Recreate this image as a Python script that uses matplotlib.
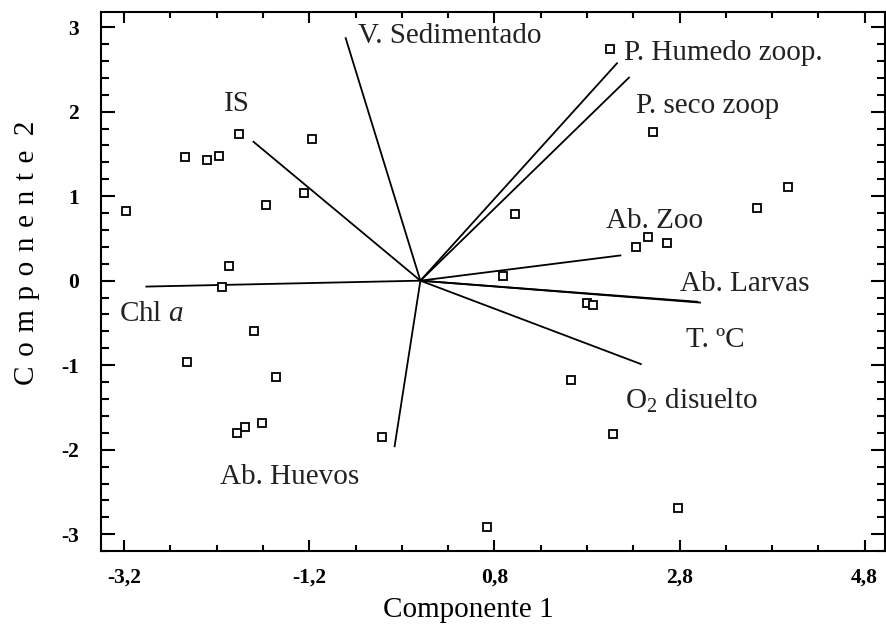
import numpy as np
import matplotlib.pyplot as plt
from matplotlib.ticker import FixedLocator, MultipleLocator

# Sample scores (Componente 1, Componente 2)
comp1 = [-3.18, -2.54, -2.30, -2.18, -1.96, -1.17, -1.26, -1.67, -2.07, -2.14,
         -1.80, -2.52, -1.56, -1.71, -1.89, -1.98, -0.42,
         2.05, 2.51, 3.97, 3.64, 1.02, 2.46, 2.33, 2.66, 0.89, 1.80, 1.86,
         1.63, 2.08, 2.78, 0.72]
comp2 = [0.82, 1.46, 1.43, 1.48, 1.73, 1.68, 1.04, 0.89, 0.17, -0.07,
         -0.59, -0.96, -1.14, -1.68, -1.73, -1.80, -1.85,
         2.74, 1.76, 1.11, 0.86, 0.79, 0.52, 0.40, 0.45, 0.06, -0.27, -0.29,
         -1.18, -1.82, -2.69, -2.91]

# Variable loadings (vector end points)
var_names = ['V. Sedimentado', 'IS', 'Chl a', 'Ab. Huevos', 'P. Humedo zoop.',
             'P. seco zoop', 'Ab. Zoo', 'Ab. Larvas', 'T. ºC', 'O2 disuelto']
var_x = [-0.81, -1.81, -2.97, -0.28, 2.13, 2.26, 2.17, 3.03, 3.00, 2.39]
var_y = [2.88, 1.65, -0.07, -1.97, 2.58, 2.41, 0.30, -0.26, -0.25, -0.99]

# label text and where it sits
label_txt = ['V. Sedimentado', 'IS', 'Chl $\\mathit{a}$', 'Ab. Huevos', 'P. Humedo zoop.',
             'P. seco zoop', 'Ab. Zoo', 'Ab. Larvas', 'T. ºC', 'O$_2$ disuelto']
label_x = [-0.67, -2.12, -3.26, -2.16, 2.20, 2.33, 2.00, 2.80, 2.87, 2.21]
label_y = [2.89, 2.09, -0.40, -2.32, 2.69, 2.07, 0.71, -0.04, -0.70, -1.42]

xticks = [-3.2, -1.2, 0.8, 2.8, 4.8]
xtick_labels = ['-3,2', '-1,2', '0,8', '2,8', '4,8']
yticks = [-3, -2, -1, 0, 1, 2, 3]

plt.rcParams['font.family'] = ['Liberation Serif', 'DejaVu Serif']
plt.rcParams['mathtext.fontset'] = 'custom'
plt.rcParams['mathtext.rm'] = 'Liberation Serif'
plt.rcParams['mathtext.it'] = 'Liberation Serif:italic'

fig = plt.figure(figsize=(8.86, 6.27), dpi=100)
ax = fig.add_axes([0.114, 0.121, 0.885, 0.860])

for vx, vy in zip(var_x, var_y):
    ax.plot([0, vx], [0, vy], color='black', lw=1.3, solid_capstyle='butt')

ax.plot(comp1, comp2, ls='none', marker='s', ms=6.3, mfc='white', mec='black', mew=1.3)

for t, lx, ly in zip(label_txt, label_x, label_y):
    ax.text(lx, ly, t, fontsize=21, ha='left', va='center', color='#222222')

ax.set_xlim(-3.45, 5.02)
ax.set_ylim(-3.2, 3.18)

ax.xaxis.set_major_locator(FixedLocator(xticks))
ax.set_xticklabels(xtick_labels, fontsize=15.5, fontweight='bold')
ax.xaxis.set_minor_locator(FixedLocator(np.arange(-3.2, 5.0, 0.5)))
ax.yaxis.set_major_locator(FixedLocator(yticks))
ax.set_yticklabels([str(v) for v in yticks], fontsize=15.5, fontweight='bold')
ax.yaxis.set_minor_locator(MultipleLocator(0.2))

ax.tick_params(axis='both', which='both', direction='in', top=True, right=True, width=1.5)
ax.tick_params(axis='x', which='major', length=8, pad=12)
ax.tick_params(axis='x', which='minor', length=4)
ax.tick_params(axis='y', which='major', length=10, pad=16)
ax.tick_params(axis='y', which='minor', length=6)
for s in ax.spines.values():
    s.set_linewidth(1.5)

# letter-spaced y label (space + hair space between letters)
gap = ' \u200a'
ylab = gap.join('Componente') + '  2'
ax.set_xlabel('Componente 1', fontsize=21, va='center')
ax.set_ylabel(ylab, fontsize=21, va='center')
ax.xaxis.set_label_coords(0.469, -0.109)
ax.yaxis.set_label_coords(-0.094, 0.553)

plt.savefig('out.png', dpi=100)
plt.close()
